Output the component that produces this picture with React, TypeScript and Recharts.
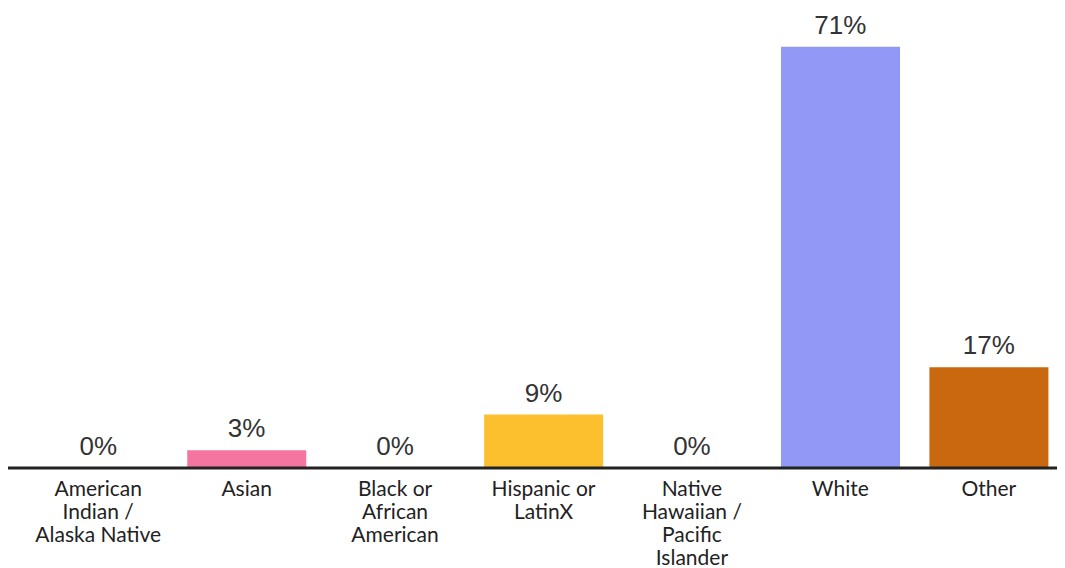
import { ComposedChart, Bar, Line, XAxis, YAxis, Cell, LabelList } from 'recharts';

const categories = [
  'American Indian / Alaska Native',
  'Asian',
  'Black or African American',
  'Hispanic or LatinX',
  'Native Hawaiian / Pacific Islander',
  'White',
  'Other',
];
const tickLines = [
  ['American', 'Indian /', 'Alaska Native'],
  ['Asian'],
  ['Black or', 'African', 'American'],
  ['Hispanic or', 'LatinX'],
  ['Native', 'Hawaiian /', 'Pacific', 'Islander'],
  ['White'],
  ['Other'],
];
const shares = [0, 3, 0, 9, 0, 71, 17];
const colors = ['#f4759f', '#f4759f', '#f4759f', '#fcc02e', '#9198f5', '#9198f5', '#c9680e'];

const data = categories.map((name, i) => ({ name, value: shares[i] }));

function CategoryTick(props: any) {
  const { x, y, index } = props;
  const lines = tickLines[index] || [];
  return (
    <text
      x={x}
      y={y + 20}
      textAnchor="middle"
      fill="#222"
      fontSize={21}
      fontFamily="Lato, 'Open Sans', sans-serif"
    >
      {lines.map((l, i) => (
        <tspan key={i} x={x} dy={i === 0 ? 0 : 23}>
          {l}
        </tspan>
      ))}
    </text>
  );
}

function ValueLabel(props: any) {
  const { x, y, value } = props;
  return (
    <text
      x={x}
      y={y - 13}
      textAnchor="middle"
      fill="#333"
      fontSize={26}
      fontFamily="'Liberation Sans', Arial, sans-serif"
    >
      {`${value}%`}
    </text>
  );
}

export default function App() {
  return (
    <ComposedChart
      width={1057}
      height={560}
      data={data}
      margin={{ top: 15, right: 0, left: 0, bottom: 0 }}
      barCategoryGap="10%"
    >
      <XAxis
        dataKey="name"
        interval={0}
        height={100}
        padding={{ left: 16, right: 2 }}
        axisLine={{ stroke: '#222', strokeWidth: 3 }}
        tickLine={false}
        tick={<CategoryTick />}
      />
      <YAxis hide domain={[0, 75]} />
      <Bar dataKey="value" isAnimationActive={false}>
        {data.map((d, i) => (
          <Cell key={d.name} fill={colors[i]} />
        ))}
      </Bar>
      <Line
        dataKey="value"
        stroke="none"
        dot={false}
        activeDot={false}
        isAnimationActive={false}
      >
        <LabelList dataKey="value" content={<ValueLabel />} />
      </Line>
    </ComposedChart>
  );
}
